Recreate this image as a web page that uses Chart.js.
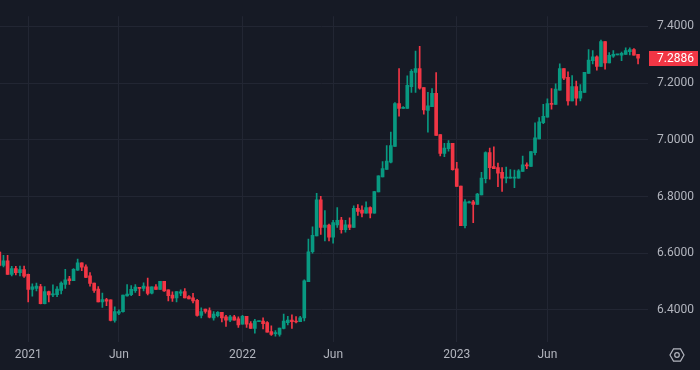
<!DOCTYPE html>
<html>
<head>
<meta charset="utf-8">
<title>USD/CNY hebdo</title>
<script src="https://cdn.jsdelivr.net/npm/chart.js@4.4.1/dist/chart.umd.min.js"></script>
<style>
  html, body { margin: 0; padding: 0; background: #161a25; }
  #wrap { position: relative; width: 700px; height: 370px; }
</style>
</head>
<body>
<div id="wrap"><canvas id="candles"></canvas></div>
<script>
// Bougies hebdomadaires (lundi), la première semaine commence le 16/11/2020
const firstWeek = '2020-11-16';

const opens = [
  6.6037, 6.5566, 6.5735, 6.5254, 6.5455, 6.5310, 6.5420,
  6.5254, 6.4726, 6.4760, 6.4820, 6.4220, 6.4650, 6.4530, 6.4540, 6.4690, 6.4900,
  6.5100, 6.5030, 6.5400, 6.5660, 6.5520, 6.5200, 6.4950, 6.4730, 6.4280, 6.4360,
  6.4357, 6.3630, 6.3886, 6.3940, 6.4490, 6.4536, 6.4680, 6.4783, 6.4760, 6.4817,
  6.4590, 6.4817, 6.4726, 6.5008, 6.4704, 6.4525, 6.4425, 6.4590, 6.4649, 6.4470,
  6.4425, 6.4336, 6.3808, 6.4033, 6.3976, 6.3718, 6.3798, 6.3910, 6.3752, 6.3640,
  6.3752, 6.3685, 6.3495, 6.3775, 6.3517, 6.3348, 6.3584, 6.3607, 6.3551, 6.3237,
  6.3160, 6.3136, 6.3348, 6.3551, 6.3640, 6.3607, 6.3584, 6.3718, 6.4996, 6.6050,
  6.6610, 6.7886, 6.6912, 6.6990, 6.6565, 6.7000, 6.7173, 6.6834, 6.7000, 6.6912,
  6.7584, 6.7520, 6.7416, 6.7607, 6.7416, 6.8167, 6.8693, 6.8960, 6.9210, 6.9768,
  7.1280, 7.1113, 7.1113, 7.1876, 7.2380, 7.2514, 7.1840, 7.1035, 7.1170, 7.1640,
  7.0190, 6.9520, 6.9690, 6.9880, 6.8980, 6.8370, 6.6970, 6.7775, 6.7810, 6.7720,
  6.8054, 6.8626, 6.9550, 6.9060, 6.9020, 6.8850, 6.8650, 6.8650, 6.8650, 6.8650,
  6.8890, 6.9120, 6.9062, 6.9546, 7.0030, 7.0610, 7.0800, 7.1280, 7.1250, 7.1750,
  7.2514, 7.2210, 7.1370, 7.1876, 7.1470, 7.1674, 7.2346, 7.2794, 7.2928, 7.2590,
  7.3466, 7.2716, 7.2950, 7.2996, 7.2985, 7.3018, 7.3110, 7.3186, 7.3018
];
const highs = [
  6.6060, 6.5926, 6.5926, 6.5533, 6.5533, 6.5546, 6.5546,
  6.5260, 6.4920, 6.4950, 6.4900, 6.4820, 6.4660, 6.4880, 6.4820, 6.4990, 6.5430,
  6.5180, 6.5460, 6.5790, 6.5660, 6.5590, 6.5320, 6.4950, 6.4820, 6.4590, 6.4410,
  6.4357, 6.4110, 6.4000, 6.4525, 6.4895, 6.4860, 6.4895, 6.4783, 6.4951, 6.5120,
  6.4817, 6.4895, 6.5008, 6.5008, 6.4704, 6.4637, 6.4650, 6.4704, 6.4750, 6.4504,
  6.4580, 6.4370, 6.4077, 6.4033, 6.4077, 6.3943, 6.3943, 6.3910, 6.3808, 6.3808,
  6.3808, 6.3752, 6.3808, 6.3775, 6.3584, 6.3664, 6.3607, 6.3718, 6.3584, 6.3439,
  6.3270, 6.3361, 6.3852, 6.3775, 6.3830, 6.3763, 6.3775, 6.5060, 6.6497, 6.6934,
  6.8110, 6.8010, 6.7506, 6.7025, 6.7160, 6.7607, 6.7270, 6.7160, 6.7247, 6.7674,
  6.7718, 6.7674, 6.7810, 6.7640, 6.8180, 6.8726, 6.9230, 6.9800, 7.0270, 7.1314,
  7.2514, 7.1170, 7.2256, 7.2480, 7.3130, 7.3297, 7.1840, 7.1674, 7.1810, 7.2370,
  7.0190, 6.9880, 6.9970, 6.9880, 6.9210, 6.8370, 6.7890, 6.7840, 6.7865, 6.8110,
  6.8850, 6.9580, 6.9710, 6.9750, 6.9180, 6.9020, 6.9040, 6.8950, 6.8930, 6.8950,
  6.9430, 6.9187, 6.9590, 7.0600, 7.0790, 7.1250, 7.1450, 7.1810, 7.1980, 7.2680,
  7.2514, 7.2403, 7.2270, 7.2070, 7.1950, 7.2380, 7.3186, 7.3153, 7.2962, 7.3520,
  7.3466, 7.3075, 7.3153, 7.3020, 7.3096, 7.3243, 7.3243, 7.3220, 7.3018
];
const lows = [
  6.5540, 6.5513, 6.5254, 6.5197, 6.5230, 6.5197, 6.5150,
  6.4280, 6.4480, 6.4670, 6.4210, 6.4210, 6.4280, 6.4470, 6.4470, 6.4560, 6.4760,
  6.4900, 6.5030, 6.5390, 6.5380, 6.5140, 6.4840, 6.4620, 6.4280, 6.4090, 6.4150,
  6.3607, 6.3570, 6.3830, 6.3920, 6.4480, 6.4504, 6.4615, 6.4504, 6.4670, 6.4525,
  6.4560, 6.4726, 6.4726, 6.4650, 6.4313, 6.4300, 6.4280, 6.4504, 6.4425, 6.4390,
  6.4245, 6.3775, 6.3718, 6.3886, 6.3718, 6.3640, 6.3752, 6.3573, 6.3416, 6.3584,
  6.3640, 6.3383, 6.3495, 6.3383, 6.3348, 6.3180, 6.3584, 6.3328, 6.3214, 6.3102,
  6.3070, 6.3070, 6.3328, 6.3472, 6.3348, 6.3540, 6.3584, 6.3607, 6.4996, 6.6003,
  6.6610, 6.6665, 6.6430, 6.6430, 6.6353, 6.6912, 6.6710, 6.6745, 6.6834, 6.6912,
  6.7337, 6.7280, 6.7416, 6.7247, 6.7416, 6.8167, 6.8693, 6.8960, 6.9187, 6.9768,
  7.0834, 7.1113, 7.1113, 7.1674, 7.1674, 7.1787, 7.0910, 7.0270, 7.1170, 7.0160,
  6.9430, 6.9410, 6.9600, 6.8930, 6.8360, 6.6970, 6.6890, 6.7775, 6.7080, 6.7720,
  6.8054, 6.8480, 6.8615, 6.8980, 6.8346, 6.8180, 6.8480, 6.8650, 6.8310, 6.8650,
  6.8890, 6.8985, 6.9062, 6.9466, 7.0030, 7.0575, 7.0800, 7.1080, 7.1250, 7.1750,
  7.2120, 7.1227, 7.1370, 7.1227, 7.1370, 7.1674, 7.2346, 7.2682, 7.2457, 7.2590,
  7.2490, 7.2716, 7.2907, 7.2996, 7.2794, 7.3018, 7.2996, 7.2985, 7.2680
];
const closes = [
  6.5566, 6.5735, 6.5254, 6.5455, 6.5310, 6.5420, 6.5190,
  6.4726, 6.4810, 6.4840, 6.4220, 6.4650, 6.4530, 6.4560, 6.4730, 6.4950, 6.5060,
  6.5030, 6.5430, 6.5660, 6.5510, 6.5150, 6.4930, 6.4690, 6.4280, 6.4360, 6.4310,
  6.3630, 6.3940, 6.3943, 6.4525, 6.4560, 6.4726, 6.4806, 6.4760, 6.4840, 6.4580,
  6.4817, 6.4726, 6.5008, 6.4670, 6.4504, 6.4413, 6.4649, 6.4637, 6.4425, 6.4390,
  6.4313, 6.3808, 6.3943, 6.3943, 6.3740, 6.3852, 6.3910, 6.3718, 6.3640, 6.3752,
  6.3640, 6.3472, 6.3775, 6.3495, 6.3348, 6.3607, 6.3607, 6.3517, 6.3214, 6.3136,
  6.3170, 6.3361, 6.3607, 6.3640, 6.3584, 6.3574, 6.3718, 6.5029, 6.6050, 6.6632,
  6.7886, 6.6912, 6.6990, 6.6565, 6.7080, 6.7160, 6.6834, 6.7000, 6.6912, 6.7584,
  6.7472, 6.7410, 6.7607, 6.7416, 6.8178, 6.8726, 6.8985, 6.9254, 6.9800, 7.1280,
  7.1113, 7.1146, 7.1920, 7.2420, 7.2514, 7.1820, 7.1060, 7.1200, 7.1640, 7.0160,
  6.9520, 6.9710, 6.9880, 6.8950, 6.8360, 6.6970, 6.7810, 6.7810, 6.7720, 6.8087,
  6.8650, 6.9550, 6.9020, 6.8980, 6.8820, 6.8650, 6.8680, 6.8680, 6.8680, 6.8910,
  6.9120, 6.9076, 6.9590, 7.0070, 7.0632, 7.0833, 7.1280, 7.1250, 7.1787, 7.2514,
  7.2180, 7.1370, 7.1876, 7.1470, 7.1710, 7.2380, 7.2816, 7.2928, 7.2590, 7.3466,
  7.2716, 7.2985, 7.3018, 7.3018, 7.3052, 7.3153, 7.3186, 7.2985, 7.2886
];

// Graduations
const priceTicks = [6.4, 6.6, 6.8, 7.0, 7.2, 7.4];
const tickWeeks = ['2021-01-04', '2021-06-07', '2022-01-03', '2022-06-06', '2023-01-02', '2023-06-05'];
const tickLabels = ['2021', 'Jun', '2022', 'Jun', '2023', 'Jun'];

// Liste des semaines
const weeks = [];
for (let k = 0; k < closes.length; k++) {
    const d = new Date(firstWeek + 'T00:00:00Z');
    d.setUTCDate(d.getUTCDate() + 7 * k);
    weeks.push(d.toISOString().slice(0, 10));
}
const tickPos = tickWeeks.map(w => weeks.indexOf(w));

const upColor = '#089981';
const downColor = '#f23645';
const gridColor = '#222633';
const textColor = '#b2b5be';
const candleColor = c => closes[c.dataIndex] >= opens[c.dataIndex] ? upColor : downColor;

Chart.defaults.font.family = 'Roboto, "Noto Sans", sans-serif';
Chart.defaults.font.size = 12;
Chart.defaults.color = textColor;

// Etiquette du dernier prix + icône de réglages
const lastPricePlugin = {
    id: 'lastPrice',
    afterDraw(chart) {
        const ctx = chart.ctx;
        const yScale = chart.scales.y;
        const last = closes[closes.length - 1];
        const y = yScale.getPixelForValue(last);
        const last_close = closes[closes.length - 1], last_open = opens[opens.length - 1];
        ctx.save();
        ctx.fillStyle = last_close >= last_open ? upColor : downColor;
        ctx.fillRect(yScale.left + 6, Math.round(y) - 7, 49, 15);
        ctx.fillStyle = '#ffffff';
        ctx.font = '12px Roboto, "Noto Sans", sans-serif';
        ctx.textAlign = 'left';
        ctx.textBaseline = 'middle';
        ctx.fillText(last.toFixed(4), yScale.left + 14, Math.round(y) + 0.5);

        // hexagone
        const cx = 677, cy = 355, r = 7;
        ctx.strokeStyle = textColor;
        ctx.lineWidth = 1.2;
        ctx.beginPath();
        for (let a = 0; a < 6; a++) {
            const ang = Math.PI / 3 * a;
            const px = cx + r * Math.cos(ang), py = cy + r * Math.sin(ang);
            if (a === 0) ctx.moveTo(px, py); else ctx.lineTo(px, py);
        }
        ctx.closePath();
        ctx.stroke();
        ctx.beginPath();
        ctx.arc(cx, cy, 2.3, 0, Math.PI * 2);
        ctx.stroke();
        ctx.restore();
    }
};

const ctx = document.getElementById('candles').getContext('2d');
const chart = new Chart(ctx, {
    type: 'bar',
    data: {
        datasets: [
            {
                label: 'corps',
                data: weeks.map((w, k) => ({ x: k, y: [opens[k], closes[k]] })),
                backgroundColor: candleColor,
                barThickness: 3,
                minBarLength: 1,
                grouped: false,
                order: 0
            },
            {
                label: 'mèches',
                data: weeks.map((w, k) => ({ x: k, y: [lows[k], highs[k]] })),
                backgroundColor: candleColor,
                barThickness: 1,
                grouped: false,
                order: 1
            }
        ]
    },
    options: {
        responsive: true,
        maintainAspectRatio: false,
        animation: false,
        layout: { padding: 0, autoPadding: false },
        plugins: {
            legend: { display: false },
            tooltip: { enabled: false }
        },
        scales: {
            x: {
                type: 'linear',
                min: 0.155,
                max: 156.2,
                offset: false,
                grid: { color: gridColor, drawTicks: false, offset: false },
                border: { display: false },
                ticks: {
                    padding: 6,
                    maxRotation: 0,
                    autoSkip: false,
                    callback: (v, i) => tickLabels[i]
                },
                afterBuildTicks: s => { s.ticks = tickPos.map(v => ({ value: v })); },
                afterFit: s => { s.height = 28; }
            },
            y: {
                position: 'right',
                min: 6.2867,
                max: 7.4363,
                grid: { color: gridColor, tickLength: 5 },
                border: { display: false },
                ticks: {
                    padding: 9,
                    callback: v => v.toFixed(4)
                },
                afterBuildTicks: s => { s.ticks = priceTicks.map(v => ({ value: v })); },
                afterFit: s => { s.width = 57; }
            }
        }
    },
    plugins: [lastPricePlugin]
});
</script>
</body>
</html>
